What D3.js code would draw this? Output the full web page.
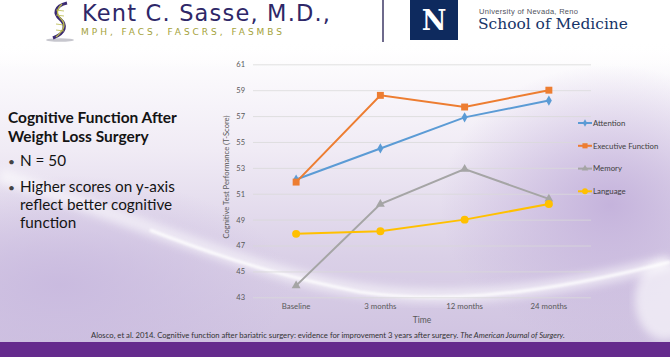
<!DOCTYPE html>
<html><head><meta charset="utf-8">
<script src="https://cdn.jsdelivr.net/npm/d3@7"></script>
<style>html,body{margin:0;padding:0;background:#fff;overflow:hidden}svg{display:block}</style>
</head><body>
<script>
const categories = ["Baseline", "3 months", "12 months", "24 months"];
const attention = [52.1, 54.5, 56.9, 58.2];
const executive = [51.9, 58.6, 57.7, 59.0];
const memory = [43.9, 50.2, 52.9, 50.6];
const language = [47.9, 48.1, 49.0, 50.2];
const seriesNames = ["Attention", "Executive Function", "Memory", "Language"];
const seriesColors = ["#5b9bd5", "#ed7d31", "#a5a5a5", "#ffc000"];
const seriesShapes = ["diamond", "square", "triangle", "circle"];
const yTicks = [43, 45, 47, 49, 51, 53, 55, 57, 59, 61];

const W = 670, H = 357;
const FONT = "Lato, 'Open Sans', sans-serif";
const svg = d3.select("body").append("svg").attr("width", W).attr("height", H);
const defs = svg.append("defs");

// ---- background ----
const lg = defs.append("linearGradient").attr("id","bg").attr("x1",0).attr("y1",0).attr("x2",0).attr("y2",1);
lg.append("stop").attr("offset","0.12").attr("stop-color","#ffffff");
lg.append("stop").attr("offset","0.42").attr("stop-color","#f0ebf5");
lg.append("stop").attr("offset","0.72").attr("stop-color","#dad0e7");
lg.append("stop").attr("offset","1").attr("stop-color","#cec1e0");
svg.append("rect").attr("width",W).attr("height",H).attr("fill","url(#bg)");
const rg = defs.append("radialGradient").attr("id","rg").attr("cx","0.5").attr("cy","0.5").attr("r","0.5");
rg.append("stop").attr("offset","0").attr("stop-color","#c3b1db").attr("stop-opacity",0.95);
rg.append("stop").attr("offset","1").attr("stop-color","#c3b1db").attr("stop-opacity",0);
svg.append("ellipse").attr("cx",610).attr("cy",205).attr("rx",170).attr("ry",140).attr("fill","url(#rg)");
const rg2 = defs.append("radialGradient").attr("id","rg2").attr("cx","0.5").attr("cy","0.5").attr("r","0.5");
rg2.append("stop").attr("offset","0").attr("stop-color","#c9badf").attr("stop-opacity",0.95);
rg2.append("stop").attr("offset","1").attr("stop-color","#c9badf").attr("stop-opacity",0);
svg.append("ellipse").attr("cx",60).attr("cy",285).attr("rx",230).attr("ry",110).attr("fill","url(#rg2)");
defs.append("filter").attr("id","blur").append("feGaussianBlur").attr("stdDeviation",4);
defs.append("filter").attr("id","blur2").append("feGaussianBlur").attr("stdDeviation",1.2);
svg.append("path").attr("d","M0,175 C120,215 240,265 330,285 C420,303 520,300 670,262")
  .attr("fill","none").attr("stroke","#ffffff").attr("stroke-width",14).attr("opacity",0.55).attr("filter","url(#blur)");
svg.append("path").attr("d","M150,230 C240,265 300,280 360,292 C430,302 520,300 670,262")
  .attr("fill","none").attr("stroke","#ffffff").attr("stroke-width",3).attr("opacity",0.8).attr("filter","url(#blur2)");
svg.append("ellipse").attr("cx",665).attr("cy",300).attr("rx",30).attr("ry",40).attr("fill","#fff").attr("opacity",0.6).attr("filter","url(#blur)");
const hg = defs.append("linearGradient").attr("id","hg").attr("x1",0).attr("y1",0).attr("x2",0).attr("y2",1);
hg.append("stop").attr("offset","0.6").attr("stop-color","#fff").attr("stop-opacity",1);
hg.append("stop").attr("offset","1").attr("stop-color","#fff").attr("stop-opacity",0);
svg.append("rect").attr("width",W).attr("height",70).attr("fill","url(#hg)");

// purple footer band
svg.append("rect").attr("x",0).attr("y",342).attr("width",W).attr("height",H-342).attr("fill","#652b8d");

// ---- header ----
svg.append("ellipse").attr("cx",60).attr("cy",40).attr("rx",14).attr("ry",1.8).attr("fill","#b9b9c2").attr("opacity",0.8);
svg.append("path").attr("d","M67,3 C54,6 54,14 60,19 C67,25 66,33 53,38").attr("fill","none").attr("stroke","#3b2a73").attr("stroke-width",3.2);
svg.append("path").attr("d","M62,4 C56,10 56,14 62,20 C67,26 62,32 56,37").attr("fill","none").attr("stroke","#b9b94a").attr("stroke-width",1.3);
[10,15,24,30].forEach(yy=>svg.append("line").attr("x1",56).attr("x2",64).attr("y1",yy).attr("y2",yy+1).attr("stroke","#b9b94a").attr("stroke-width",0.8));

function fitText(sel, target){
  const n = sel.node(); const w = n.getComputedTextLength();
  const fs = parseFloat(sel.attr("font-size"));
  sel.attr("font-size", fs*target/w);
}
function fitSpacing(sel, target){
  const n = sel.node(); const w = n.getComputedTextLength();
  const len = sel.text().length;
  sel.attr("letter-spacing", Math.max(0,(target - w)/(len-1)));
}
const kent = svg.append("text").attr("x",82).attr("y",21).attr("font-family","'DejaVu Sans', sans-serif").attr("font-size",22.5)
  .attr("fill","#2e2768").text("Kent C. Sasse, M.D.,");
fitSpacing(kent, 248);
const mph = svg.append("text").attr("x",81).attr("y",35).attr("font-family","'DejaVu Sans', sans-serif").attr("font-size",9)
  .attr("fill","#a4a23a").text("MPH, FACS, FASCRS, FASMBS");
fitSpacing(mph, 201);
svg.append("line").attr("x1",383).attr("x2",383).attr("y1",0).attr("y2",42).attr("stroke","#6e6a8c").attr("stroke-width",2);
svg.append("rect").attr("x",410).attr("y",0).attr("width",48).attr("height",40).attr("fill","#0e2a5e");
svg.append("text").attr("x",434).attr("y",30).attr("text-anchor","middle").attr("font-family","'DejaVu Serif', serif")
  .attr("font-weight","bold").attr("font-size",27).attr("fill","#fff").text("N");
const uni = svg.append("text").attr("x",479).attr("y",13.5).attr("font-family","'Liberation Sans', sans-serif").attr("font-size",7.5)
  .attr("fill","#50535e").text("University of Nevada, Reno");
fitSpacing(uni, 99);
const som = svg.append("text").attr("x",478).attr("y",29).attr("font-family","'DejaVu Serif', serif").attr("font-size",14)
  .attr("fill","#163468").text("School of Medicine");
fitText(som, 150);

// ---- left text ----
const left = svg.append("g").attr("font-family",FONT).attr("fill","#141414");
const t1 = left.append("text").attr("x",8).attr("y",123).attr("font-weight","bold").attr("font-size",16).text("Cognitive Function After");
fitText(t1, 169);
const tfs = parseFloat(t1.attr("font-size"));
left.append("text").attr("x",8).attr("y",141.5).attr("font-weight","bold").attr("font-size",tfs).text("Weight Loss Surgery");
const bl = [["•",8,166],["•",8,191.5]];
bl.forEach(b=>left.append("text").attr("x",b[1]).attr("y",b[2]).attr("font-size",12).attr("fill","#444").text(b[0]));
const h1 = left.append("text").attr("x",20).attr("y",191.5).attr("font-size",16).text("Higher scores on y-axis");
fitText(h1, 155);
const bfs = parseFloat(h1.attr("font-size"));
left.append("text").attr("x",20).attr("y",166).attr("font-size",bfs).text("N = 50");
left.append("text").attr("x",20).attr("y",210).attr("font-size",bfs).text("reflect better cognitive");
left.append("text").attr("x",20).attr("y",228).attr("font-size",bfs).text("function");

// ---- chart ----
const x = d3.scaleBand().domain(categories).range([254, 591]).padding(0);
const y = d3.scaleLinear().domain([43, 61]).range([297.3, 64.3]);
const cx = d => x(d) + x.bandwidth()/2;

const gridAxis = d3.axisLeft(y).tickValues(yTicks).tickSize(-(591-253)).tickFormat("");
const gg = svg.append("g").attr("transform","translate(253,0)").call(gridAxis);
gg.select(".domain").remove();
gg.selectAll("line").attr("stroke","#d9d9d9").attr("stroke-width",0.8);

const yAxis = d3.axisLeft(y).tickValues(yTicks).tickSize(0).tickPadding(0).tickFormat(d3.format("d"));
const ya = svg.append("g").attr("transform","translate(245,0)").call(yAxis);
ya.select(".domain").remove();
ya.selectAll("text").attr("font-family",FONT).attr("font-size",7.5).attr("fill","#595959");

const xAxis = d3.axisBottom(x).tickSize(0).tickPadding(0);
const xa = svg.append("g").attr("transform","translate(0,303)").call(xAxis);
xa.select(".domain").remove();
xa.selectAll("text").attr("font-family",FONT).attr("font-size",7.8).attr("fill","#595959");

svg.append("text").attr("x",422).attr("y",323).attr("text-anchor","middle").attr("font-family",FONT)
  .attr("font-size",8.5).attr("fill","#595959").text("Time");
svg.append("text").attr("transform","translate(228.5,177) rotate(-90)").attr("text-anchor","middle").attr("font-family",FONT)
  .attr("font-size",7.6).attr("fill","#595959").text("Cognitive Test Performance (T-Score)");

const allSeries = [attention, executive, memory, language];
const line = d3.line().x((d,i)=>cx(categories[i])).y(d=>y(d));
const symType = {diamond: d3.symbolDiamond, square: d3.symbolSquare, triangle: d3.symbolTriangle, circle: d3.symbolCircle};
const symSize = {diamond: 30, square: 48, triangle: 34, circle: 50};

[2,3,0,1].forEach(si=>{
  const vals = allSeries[si];
  svg.append("path").datum(vals).attr("d",line).attr("fill","none")
    .attr("stroke",seriesColors[si]).attr("stroke-width",2);
  svg.selectAll(null).data(vals).enter().append("path")
    .attr("transform",(d,i)=>`translate(${cx(categories[i])},${y(d)})`)
    .attr("d", d3.symbol().type(symType[seriesShapes[si]]).size(symSize[seriesShapes[si]]))
    .attr("fill",seriesColors[si]);
});

// legend
const legY = [123, 145.8, 168.6, 191.3];
seriesNames.forEach((n,i)=>{
  const g = svg.append("g").attr("transform",`translate(578,${legY[i]})`);
  g.append("line").attr("x1",0).attr("x2",14).attr("y1",0).attr("y2",0).attr("stroke",seriesColors[i]).attr("stroke-width",2);
  g.append("path").attr("transform","translate(7,0)")
    .attr("d", d3.symbol().type(symType[seriesShapes[i]]).size(symSize[seriesShapes[i]]*0.55)).attr("fill",seriesColors[i]);
  g.append("text").attr("x",15).attr("y",2.8).attr("font-family",FONT).attr("font-size",7.8).attr("fill","#404040").text(n);
});

// citation
const cit = svg.append("text").attr("x",91).attr("y",338).attr("font-family",FONT).attr("font-size",7).attr("fill","#333");
cit.append("tspan").text("Alosco, et al. 2014. Cognitive function after bariatric surgery: evidence for improvement 3 years after surgery. ");
cit.append("tspan").attr("font-style","italic").text("The American Journal of Surgery.");
fitText(cit, 474);
</script>
</body></html>
